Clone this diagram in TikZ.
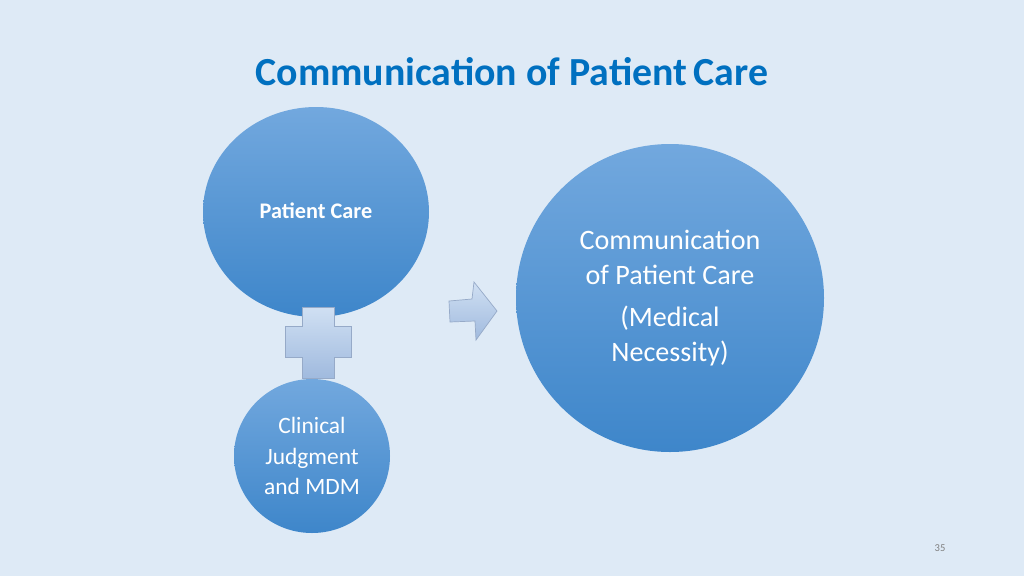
\documentclass[tikz,border=0pt]{standalone}
\usepackage{fontspec}
\setmainfont{Carlito}
\usetikzlibrary{shapes,arrows,positioning,calc,shadings}
\definecolor{slidebg}{RGB}{222,234,246}
\definecolor{titleblue}{RGB}{0,112,192}
\definecolor{bubbletop}{RGB}{114,168,222}
\definecolor{bubblebot}{RGB}{62,134,202}
\definecolor{signtop}{RGB}{208,224,243}
\definecolor{signbot}{RGB}{160,186,222}
\definecolor{signedge}{RGB}{150,170,200}
\tikzset{
  bubble/.style={ellipse, top color=bubbletop, bottom color=bubblebot, text=white, align=center, inner sep=0pt},
  sign/.style={top color=signtop, bottom color=signbot, draw=signedge, line width=0.6pt}
}
\begin{document}
\begin{tikzpicture}[x=0.03cm, y=-0.03cm]
    % Background
    \fill[slidebg] (0,0) rectangle (1024,576);
    \useasboundingbox (0,0) rectangle (1024,576);
    \node[text=titleblue, font=\bfseries\fontsize{34}{38}\selectfont] (title) at (512,72) {Communication of Patient\,Care};

    % Left bubbles
    \node[bubble, minimum width=226*0.03cm, minimum height=210*0.03cm] (care) at (316,212) {};
    \node[text=white, font=\bfseries\fontsize{19}{22}\selectfont] (caretext) at (316,211) {Patient Care};
    \draw[sign] (302,307) -- (334,307) -- (334,326) -- (351,326) -- (351,357) -- (334,357) -- (334,378)
        -- (302,378) -- (302,357) -- (285,357) -- (285,326) -- (302,326) -- cycle;
    \node[bubble, minimum width=156*0.03cm, minimum height=154*0.03cm,
          font=\fontsize{20}{26}\selectfont] (judgment) at (312,456) {Clinical\\Judgment\\and MDM};

    % Arrow
    \draw[sign] (449,301) -- (472,299) -- (474,282) -- (497,311) -- (476,340) -- (475,321) -- (450,322) -- cycle;

    % Right bubble
    \node[bubble, minimum width=308*0.03cm, minimum height=308*0.03cm,
          font=\fontsize{24}{30}\selectfont] (result) at (670,298)
          {Communication\\of Patient Care\\[6pt](Medical\\Necessity)};

    \node[text=gray, font=\fontsize{9}{10}\selectfont] (page) at (940,548) {35};
\end{tikzpicture}
\end{document}
